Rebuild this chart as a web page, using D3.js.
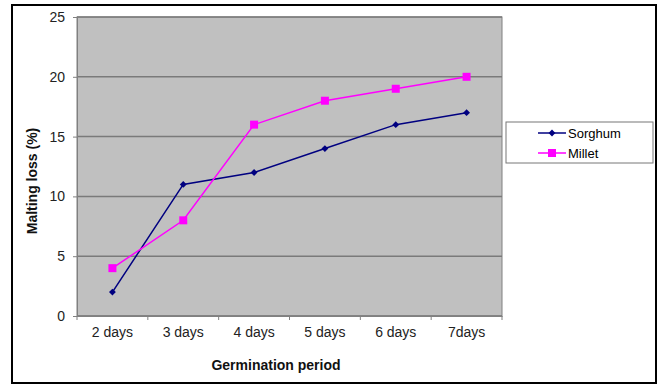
<!DOCTYPE html>
<html>
<head>
<meta charset="utf-8">
<script src="https://cdnjs.cloudflare.com/ajax/libs/d3/7.8.5/d3.min.js"></script>
<style>
  body { margin: 0; background: #fff; }
  text { font-family: Arial, "Liberation Sans", sans-serif; }
</style>
</head>
<body>
<svg width="660" height="385"></svg>
<script>
var categories = ["2 days", "3 days", "4 days", "5 days", "6 days", "7days"];
var sorghum = [2, 11, 12, 14, 16, 17];
var millet = [4, 8, 16, 18, 19, 20];
var yTicks = [0, 5, 10, 15, 20, 25];

var series = [
    {name: "Sorghum", values: sorghum, color: "#000080", marker: "diamond"},
    {name: "Millet", values: millet, color: "#ff00ff", marker: "square"}
];

var svg = d3.select("svg");
var margin = {top: 17, left: 77, right: 158, bottom: 69};
var width = 660 - margin.left - margin.right;
var height = 385 - margin.top - margin.bottom;

// outer frame
svg.append("rect")
    .attr("x", 12).attr("y", 5)
    .attr("width", 644).attr("height", 378)
    .attr("fill", "#fff")
    .attr("stroke", "#000")
    .attr("stroke-width", 2);

var g = svg.append("g")
    .attr("transform", "translate(" + margin.left + "," + margin.top + ")");

var x = d3.scaleBand().domain(categories).range([0, width]);
var y = d3.scaleLinear().domain([0, 25]).range([height, 0]);

g.append("rect")
    .attr("width", width).attr("height", height)
    .attr("fill", "#c0c0c0")
    .attr("stroke", "#808080");

// grid
g.append("g").selectAll("line")
    .data(yTicks)
    .enter().append("line")
    .attr("x1", 0).attr("x2", width)
    .attr("y1", function (d) { return y(d); })
    .attr("y2", function (d) { return y(d); })
    .attr("stroke", "#7a7a7a")
    .attr("stroke-width", 1.5);

// y axis
var yAxis = g.append("g")
    .call(d3.axisLeft(y).tickValues(yTicks).tickSize(4).tickPadding(8));
yAxis.select(".domain").attr("stroke", "#808080");
yAxis.selectAll(".tick line").attr("stroke", "#808080");
yAxis.selectAll("text").style("font-size", "14px").attr("fill", "#222");

// x axis
var xAxis = g.append("g")
    .attr("transform", "translate(0," + height + ")")
    .call(d3.axisBottom(x).tickSize(0).tickPadding(11));
xAxis.select(".domain").attr("stroke", "#808080");
xAxis.selectAll("text").style("font-size", "14px").attr("fill", "#222");
xAxis.append("g").selectAll("line")
    .data(d3.range(categories.length + 1))
    .enter().append("line")
    .attr("x1", function (i) { return i * x.step(); })
    .attr("x2", function (i) { return i * x.step(); })
    .attr("y1", 0).attr("y2", 4)
    .attr("stroke", "#808080");

// titles
svg.append("text")
    .attr("x", 276).attr("y", 370)
    .attr("text-anchor", "middle")
    .style("font-size", "14px").style("font-weight", "bold")
    .attr("fill", "#111")
    .text("Germination period");

svg.append("text")
    .attr("transform", "translate(37,181) rotate(-90)")
    .attr("text-anchor", "middle")
    .style("font-size", "14px").style("font-weight", "bold")
    .attr("fill", "#111")
    .text("Malting loss (%)");

var line = d3.line()
    .x(function (d, i) { return x(categories[i]) + x.bandwidth() / 2; })
    .y(function (d) { return y(d); });

function drawMarker(sel, s, cx, cy) {
    if (s.marker === "diamond") {
        sel.append("path")
            .attr("d", d3.symbol().type(d3.symbolDiamond2).size(30))
            .attr("transform", "translate(" + cx + "," + cy + ")")
            .attr("fill", s.color);
    } else {
        sel.append("rect")
            .attr("x", cx - 4).attr("y", cy - 4)
            .attr("width", 8).attr("height", 8)
            .attr("fill", s.color);
    }
}

series.forEach(function (s) {
    g.append("path")
        .datum(s.values)
        .attr("d", line)
        .attr("fill", "none")
        .attr("stroke", s.color)
        .attr("stroke-width", 1.5);
    s.values.forEach(function (v, i) {
        drawMarker(g, s, x(categories[i]) + x.bandwidth() / 2, y(v));
    });
});

// legend
var legend = svg.append("g").attr("transform", "translate(506,122)");
legend.append("rect")
    .attr("width", 147).attr("height", 41)
    .attr("fill", "#fff").attr("stroke", "#777");
series.forEach(function (s, i) {
    var ly = 11 + i * 20;
    legend.append("line")
        .attr("x1", 32).attr("x2", 60)
        .attr("y1", ly).attr("y2", ly)
        .attr("stroke", s.color).attr("stroke-width", 1.5);
    drawMarker(legend, s, 46, ly);
    legend.append("text")
        .attr("x", 62).attr("y", ly + 5)
        .style("font-size", "13px")
        .text(s.name);
});
</script>
</body>
</html>
